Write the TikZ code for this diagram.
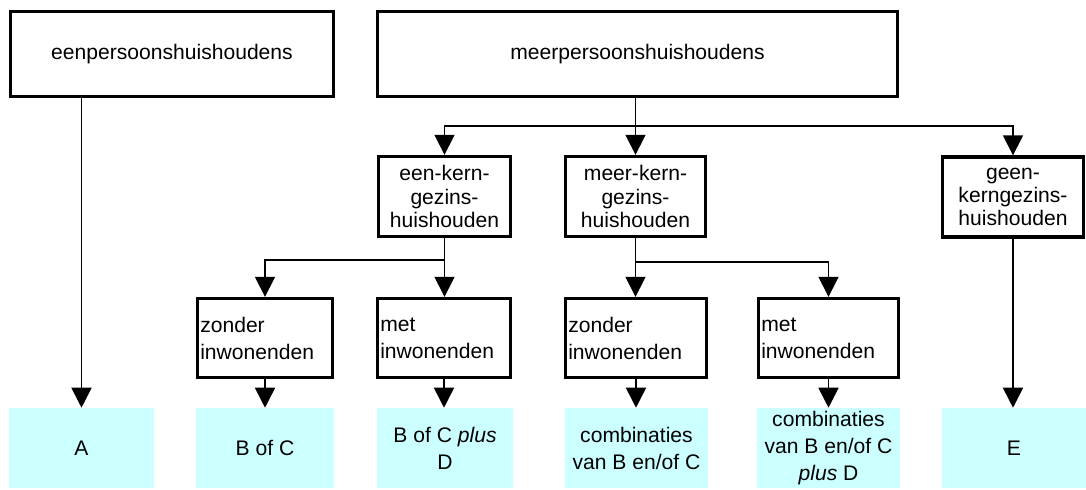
\documentclass[tikz,border=0pt]{standalone}
\usepackage{fontspec}
\setsansfont{Liberation Sans}
\usepackage{xcolor}
\definecolor{hhLine}{HTML}{000000}
\definecolor{hhType}{HTML}{CCFFFF}
\usepackage{tikz}
\usetikzlibrary{arrows.meta}
\tikzset{
    hhgroup/.style={
        draw=hhLine,
        fill=white,
        rectangle,
        line width=2.4pt,
        align=center,
        minimum height=2.125cm,
        font=\sffamily\fontsize{15}{18}\selectfont
    },
    kernbox/.style={
        draw=hhLine,
        fill=white,
        rectangle,
        line width=2.4pt,
        align=center,
        minimum height=2cm,
        inner sep=1pt,
        font=\sffamily\fontsize{15}{16.6}\selectfont
    },
    inwbox/.style={
        draw=hhLine,
        fill=white,
        rectangle,
        line width=2.4pt,
        align=left,
        minimum height=1.975cm,
        inner xsep=2pt,
        text width=#1,
        font=\sffamily\fontsize{15}{19.2}\selectfont
    },
    typebox/.style={
        fill=hhType,
        rectangle,
        align=center,
        minimum height=2cm,
        inner sep=0pt,
        minimum width=#1,
        font=\sffamily\fontsize{15}{19.2}\selectfont
    },
    link/.style={
        -{Triangle[length=0.5cm,width=0.5cm]},
        line width=1.2pt,
        color=hhLine
    }
}

\begin{document}
\begin{tikzpicture}[x=0.025cm,y=-0.025cm]
    \useasboundingbox (0,0) rectangle (1086,489);

    % Household groups
    \node[hhgroup, minimum width=8.075cm] (een) at (172,54) {eenpersoonshuishoudens};
    \node[hhgroup, minimum width=13cm] (meer) at (637.5,54) {meerpersoonshuishoudens};

    % Core family split
    \node[kernbox, minimum width=3.3cm] (eenkern) at (444.5,196.5) {een-kern-\\gezins-\\huishouden};
    \node[kernbox, minimum width=3.5cm] (meerkern) at (635.5,196.5) {meer-kern-\\gezins-\\huishouden};
    \node[kernbox, minimum width=3.525cm] (geen) at (1013,197) {geen-\\kerngezins-\\huishouden};

    % Lodgers or not
    \node[inwbox=3.235cm] (zonder1) at (265,338) {zonder\\inwonenden};
    \node[inwbox=3.185cm] (met1) at (444,338) {met\\inwonenden};
    \node[inwbox=3.385cm] (zonder2) at (636,338) {zonder\\inwonenden};
    \node[inwbox=3.36cm] (met2) at (828.5,338) {met\\inwonenden};

    % Household types
    \node[typebox=3.625cm] (a) at (81.5,448) {A};
    \node[typebox=3.45cm] (bc) at (265,448) {B of C};
    \node[typebox=3.4cm] (bcd) at (445,448) {B of C \textit{plus}\\D};
    \node[typebox=3.575cm] (comb) at (636.5,448) {combinaties\\van B en/of C};
    \node[typebox=3.575cm] (combd) at (828.5,448) {combinaties\\van B en/of C\\\textit{plus} D};
    \node[typebox=3.6cm] (e) at (1014,448) {E};

    % Split levels
    \coordinate (bus1) at (0,126);
    \coordinate (bus2) at (0,260);
    \coordinate (bus3) at (0,262);

    % Connections
    \draw[link] (een.south -| a.north) -- (a.north);
    \draw[link] (meerkern.north |- meer.south) -- (meerkern.north);
    \draw[link] (meerkern.north |- bus1) -| (eenkern.north);
    \draw[link] (meerkern.north |- bus1) -| (geen.north);
    \draw[link] (eenkern.south) -- (eenkern.south |- met1.north);
    \draw[link] (eenkern.south |- bus2) -| (zonder1.north);
    \draw[link] (meerkern.south) -- (meerkern.south |- zonder2.north);
    \draw[link] (meerkern.south |- bus3) -| (met2.north);
    \draw[link] (zonder1.south) -- (zonder1.south |- bc.north);
    \draw[link] (met1.south) -- (met1.south |- bcd.north);
    \draw[link] (zonder2.south) -- (zonder2.south |- comb.north);
    \draw[link] (met2.south) -- (met2.south |- combd.north);
    \draw[link] (geen.south) -- (geen.south |- e.north);
\end{tikzpicture}
\end{document}
